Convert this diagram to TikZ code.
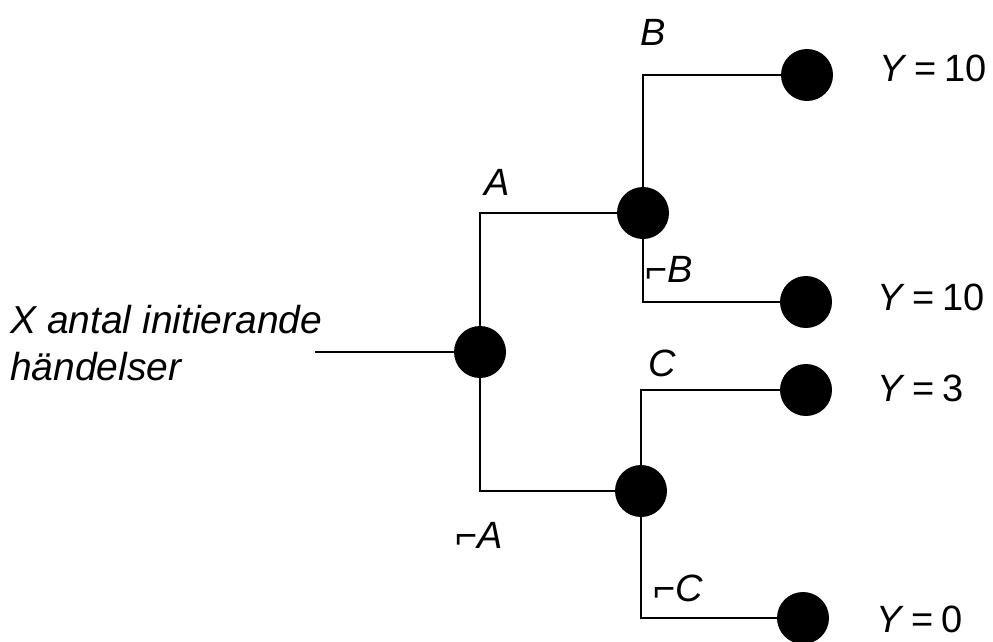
\documentclass[tikz,border=0pt]{standalone}
\usepackage{fontspec}
\setmainfont{Liberation Sans}
\begin{document}
\begin{tikzpicture}[x=1pt,y=-1pt,
  ev/.style={circle,fill=black,draw=none,minimum size=52pt,inner sep=0pt},
  conn/.style={line width=1.8pt,black},
  lbl/.style={font=\fontsize{38}{44}\selectfont\itshape,inner sep=0pt},
  lft/.style={font=\fontsize{39}{46}\selectfont\itshape,inner sep=0pt,anchor=base west},
  res/.style={font=\fontsize{38}{44}\selectfont,inner sep=0pt,anchor=west}]
\useasboundingbox (0,0) rectangle (993,641);
\node[ev] (root) at (480,352) {};
\node[ev] (u) at (643,213) {};
\node[ev] (l) at (641,491) {};
\node[ev] (r1) at (807,75) {};
\node[ev] (r2) at (806,302) {};
\node[ev] (r3) at (806,390) {};
\node[ev] (r4) at (803,618) {};
\coordinate (start) at (315,352);
\draw[conn] (start) -- (root);
\draw[conn] (root) |- (u);
\draw[conn] (root) |- (l);
\draw[conn] (u) |- (r1);
\draw[conn] (u) |- (r2);
\draw[conn] (l) |- (r3);
\draw[conn] (l) |- (r4);
\node[lft] (t1) at (10,333) {X antal initierande};
\node[lft] (t2) at (10,380) {händelser};
\node[lbl] (lB) at (653,32) {B};
\node[lbl] (lA) at (497,182) {A};
\node[lbl,anchor=west] (lnB) at (645,269) {⌐B};
\node[lbl] (lC) at (662,363) {C};
\node[lbl] (lnA) at (479,535) {⌐A};
\node[lbl] (lnC) at (678,588) {⌐C};
\node[res] (y1) at (879,68) {\textit{Y}\hspace{0.2em}=\hspace{0.2em}10};
\node[res] (y2) at (877,297) {\textit{Y}\hspace{0.2em}=\hspace{0.2em}10};
\node[res] (y3) at (877,388) {\textit{Y}\hspace{0.2em}=\hspace{0.2em}3};
\node[res] (y4) at (876,619) {\textit{Y}\hspace{0.2em}=\hspace{0.2em}0};
\end{tikzpicture}
\end{document}
